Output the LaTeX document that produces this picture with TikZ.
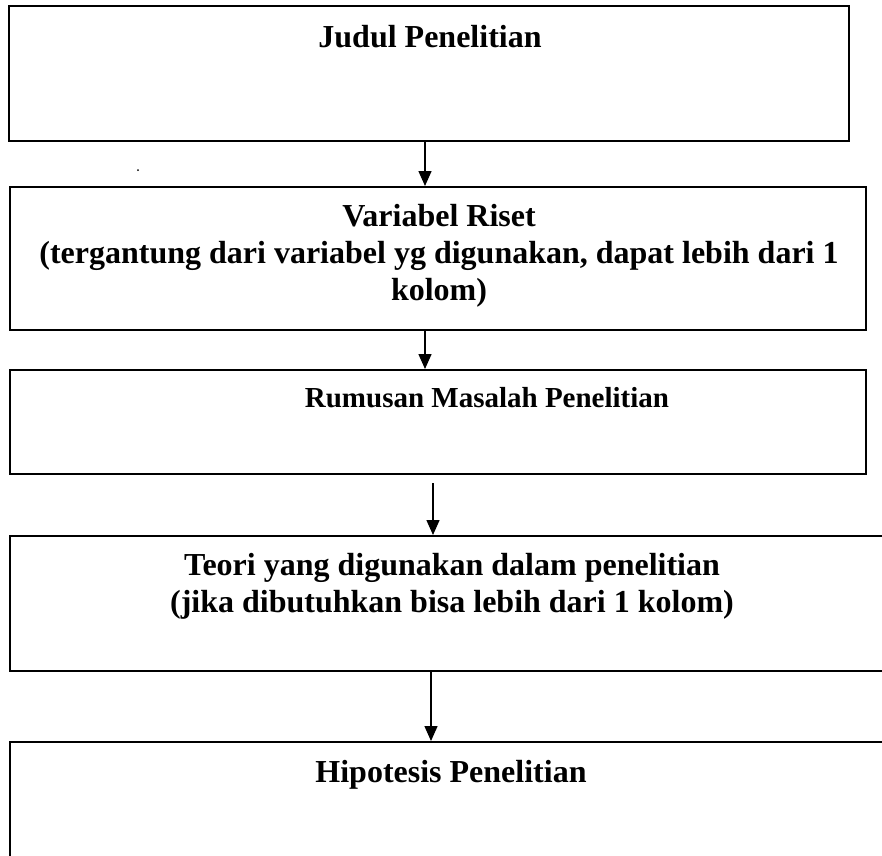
\documentclass[tikz,border=0pt]{standalone}
\usepackage{fontspec}
\setmainfont{Liberation Serif}
\usepackage{tikz}
\usetikzlibrary{arrows.meta}

\begin{document}
\begin{tikzpicture}[x=1pt, y=-1pt,
	every node/.style={inner sep=0pt},
	box/.style={draw=black, line width=2pt, rectangle},
	label/.style={font=\fontsize{32}{37}\selectfont\bfseries, align=center, anchor=base},
	flow/.style={line width=1.4pt, -{Triangle[width=13pt, length=15pt]}}]
	\useasboundingbox (0,0) rectangle (882,855);
	% kotak-kotak alur
	\node[box, minimum width=840pt, minimum height=135pt] (judul) at (429,73.5) {};
	\node[box, minimum width=856pt, minimum height=143pt] (variabel) at (438,258.5) {};
	\node[box, minimum width=856pt, minimum height=104pt] (rumusan) at (438,422) {};
	\node[box, minimum width=880pt, minimum height=135pt] (teori) at (450,603.5) {};
	\node[box, minimum width=880pt, minimum height=158pt] (hipotesis) at (450,821) {};
	% teks (base = baris terakhir)
	\node[label] (tjudul) at (430,47) {Judul Penelitian};
	\node[label] (tvariabel) at (439,300) {Variabel Riset\\(tergantung dari variabel yg digunakan, dapat lebih dari 1\\kolom)};
	\node[label, font=\fontsize{29}{34}\selectfont\bfseries] (trumusan) at (487,407) {Rumusan Masalah Penelitian};
	\node[label] (tteori) at (452,612) {Teori yang digunakan dalam penelitian\\(jika dibutuhkan bisa lebih dari 1 kolom)};
	\node[label] (thipotesis) at (451,782) {Hipotesis Penelitian};
	\fill (138,170) circle (1pt);
	% panah
	\draw[flow] (judul.south -| 425,0) -- (variabel.north -| 425,0);
	\draw[flow] (variabel.south -| 425,0) -- (rumusan.north -| 425,0);
	\draw[flow] ([yshift=-8pt]rumusan.south -| 433,0) -- (teori.north -| 433,0);
	\draw[flow] (teori.south -| 431,0) -- (hipotesis.north -| 431,0);
\end{tikzpicture}
\end{document}
